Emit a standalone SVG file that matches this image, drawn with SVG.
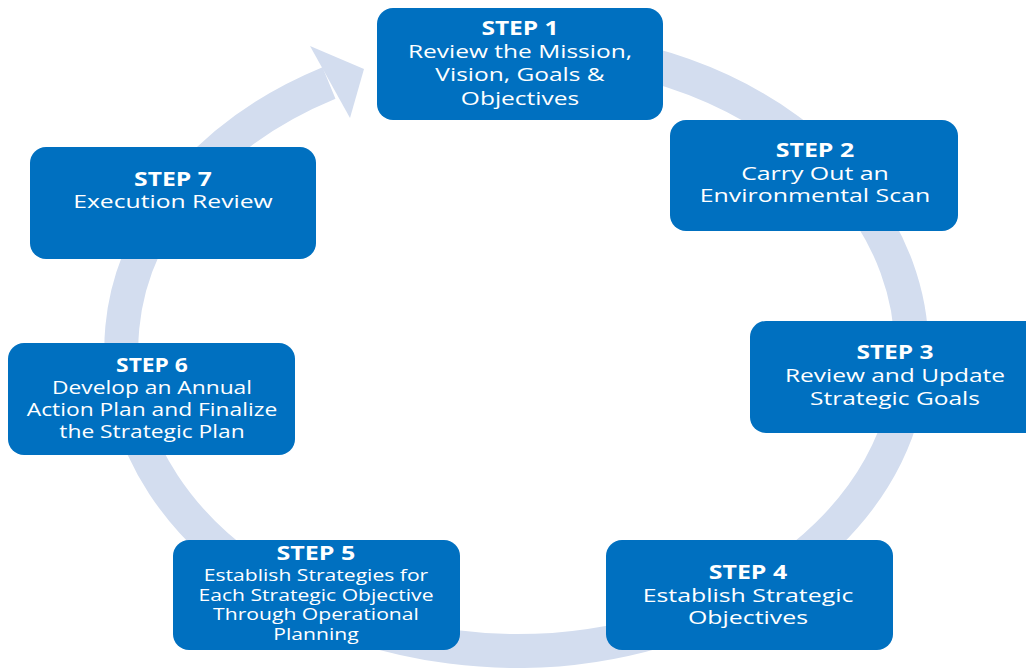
<svg xmlns="http://www.w3.org/2000/svg" width="1026" height="668" viewBox="0 0 1026 668">
<style>
.box{fill:#0070C0}
.t{font-family:"Open Sans","Liberation Sans",sans-serif;fill:#fff;text-anchor:middle;font-size:19px}
.b{font-weight:bold}
.s{font-size:16px}
.ring{fill:none;stroke:#D3DDEF;stroke-width:34}
</style>
<rect width="1026" height="668" fill="#fff"/>
<g id="connectors">
<path class="ring" d="M 420 56 A 395 302 0 1 1 329 83"/>
<polygon points="310,46 364,69 350,118" fill="#D3DDEF"/>
</g>
<g id="step1"><rect class="box" x="377" y="8" width="286" height="112" rx="16"/>
<text class="t" transform="matrix(1.29 0 0 1 -150.8 0)"><tspan class="b" x="520" y="35">STEP 1</tspan><tspan x="520" y="58">Review the Mission,</tspan><tspan x="520" y="81">Vision, Goals &amp;</tspan><tspan x="520" y="105">Objectives</tspan></text></g>
<g id="step2"><rect class="box" x="670" y="120" width="288" height="111" rx="16"/>
<text class="t" transform="matrix(1.31 0 0 1 -252.65 0)"><tspan class="b" x="815" y="157">STEP 2</tspan><tspan x="815" y="180">Carry Out an</tspan><tspan x="815" y="202">Environmental Scan</tspan></text></g>
<g id="step3"><rect class="box" x="750" y="321" width="290" height="112" rx="16"/>
<text class="t" transform="matrix(1.29 0 0 1 -259.55 0)"><tspan class="b" x="895" y="359">STEP 3</tspan><tspan x="895" y="382">Review and Update</tspan><tspan x="895" y="405">Strategic Goals</tspan></text></g>
<g id="step4"><rect class="box" x="606" y="540" width="287" height="110" rx="16"/>
<text class="t" transform="matrix(1.31 0 0 1 -231.88 0)"><tspan class="b" x="748" y="579">STEP 4</tspan><tspan x="748" y="602">Establish Strategic</tspan><tspan x="748" y="624">Objectives</tspan></text></g>
<g id="step5"><rect class="box" x="173" y="540" width="287" height="110" rx="16"/>
<text class="t" transform="matrix(1.32 0 0 1 -101.12 0)"><tspan class="b" x="316" y="560">STEP 5</tspan><tspan class="s" x="316" y="581">Establish Strategies for</tspan><tspan class="s" x="316" y="601">Each Strategic Objective</tspan><tspan class="s" x="316" y="620">Through Operational</tspan><tspan class="s" x="316" y="640">Planning</tspan></text></g>
<g id="step6"><rect class="box" x="8" y="343" width="287" height="112" rx="16"/>
<text class="t" transform="matrix(1.2 0 0 1 -30.4 0)"><tspan class="b" x="152" y="372">STEP 6</tspan><tspan x="152" y="394">Develop an Annual</tspan><tspan x="152" y="416">Action Plan and Finalize</tspan><tspan x="152" y="438">the Strategic Plan</tspan></text></g>
<g id="step7"><rect class="box" x="30" y="147" width="286" height="112" rx="16"/>
<text class="t" transform="matrix(1.3 0 0 1 -51.9 0)"><tspan class="b" x="173" y="186">STEP 7</tspan><tspan x="173" y="208">Execution Review</tspan></text></g>
</svg>
